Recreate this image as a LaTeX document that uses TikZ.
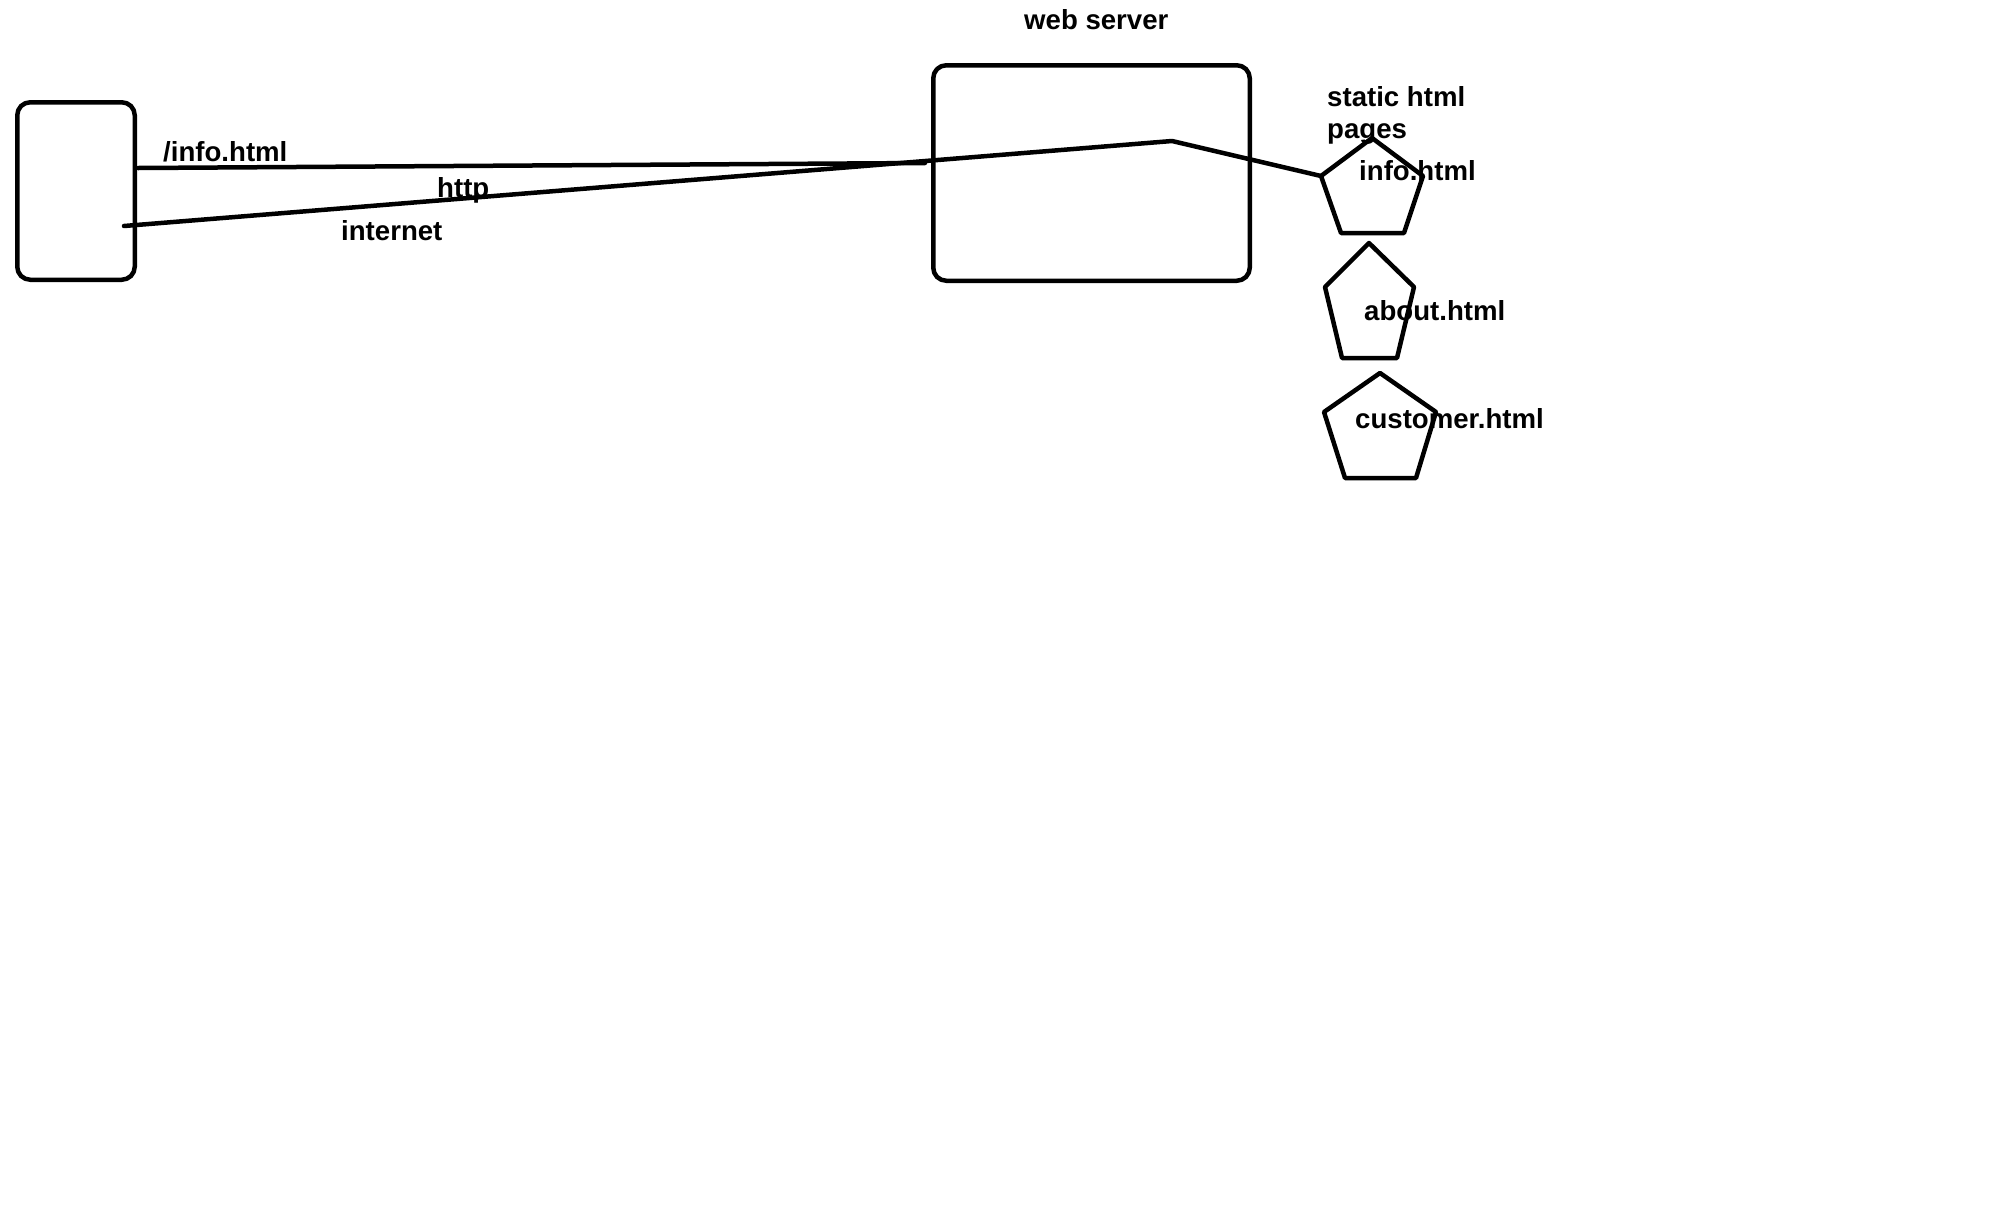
\documentclass[tikz,border=0pt]{standalone}
\usepackage{fontspec}
\setmainfont{Liberation Sans}
\begin{document}
\begin{tikzpicture}[x=1pt,y=-1pt,
  stroke/.style={line width=4.5pt, line join=round, line cap=round},
  box/.style={stroke, draw, rounded corners=13pt, inner sep=0pt},
  lbl/.style={font=\fontsize{27.6}{32}\selectfont\bfseries, inner sep=0pt, anchor=base west}]
\useasboundingbox (0,0) rectangle (1992,1227);
\fill[white] (0,0) rectangle (1992,1227);

% client and web server
\node[box, minimum width=117.5pt, minimum height=177.5pt] (client) at (76,191) {};
\node[box, minimum width=316.5pt, minimum height=215.5pt] (server) at (1091.5,173) {};

% labels
\node[lbl] (wslabel) at (1024,29) {web server};
\node[lbl] (reqlabel) at (163,161) {/info.html};
\node[lbl] (httplabel) at (437,197) {http};
\node[lbl] (netlabel) at (341,240) {internet};
\node[lbl, align=left, anchor=north west] (staticlabel) at (1327,86) {static html\\pages};
\node[lbl] (infolabel) at (1359,180) {info.html};
\node[lbl] (aboutlabel) at (1364,320) {about.html};
\node[lbl] (custlabel) at (1355,428) {customer.html};

% page pentagons
\coordinate (p1t) at (1372,138); \coordinate (p1r) at (1423,176);
\coordinate (p1br) at (1404,233); \coordinate (p1bl) at (1341,233);
\coordinate (p1l) at (1321,176);
\draw[stroke] (p1t) -- (p1r) -- (p1br) -- (p1bl) -- (p1l) -- cycle;

\coordinate (p2t) at (1369,243); \coordinate (p2r) at (1414,287);
\coordinate (p2br) at (1397,358); \coordinate (p2bl) at (1342,358);
\coordinate (p2l) at (1325,287);
\draw[stroke] (p2t) -- (p2r) -- (p2br) -- (p2bl) -- (p2l) -- cycle;

\coordinate (p3t) at (1380,373); \coordinate (p3r) at (1436,412);
\coordinate (p3br) at (1416,478); \coordinate (p3bl) at (1345,478);
\coordinate (p3l) at (1324,412);
\draw[stroke] (p3t) -- (p3r) -- (p3br) -- (p3bl) -- (p3l) -- cycle;

% request line and internet path to the page
\coordinate (reqA) at (138,168); \coordinate (reqB) at (925,163);
\draw[stroke] (reqA) -- (reqB);
\coordinate (netA) at (124,226); \coordinate (bend) at (1172,141);
\draw[stroke] (netA) -- (bend) -- (p1l);
\end{tikzpicture}
\end{document}
